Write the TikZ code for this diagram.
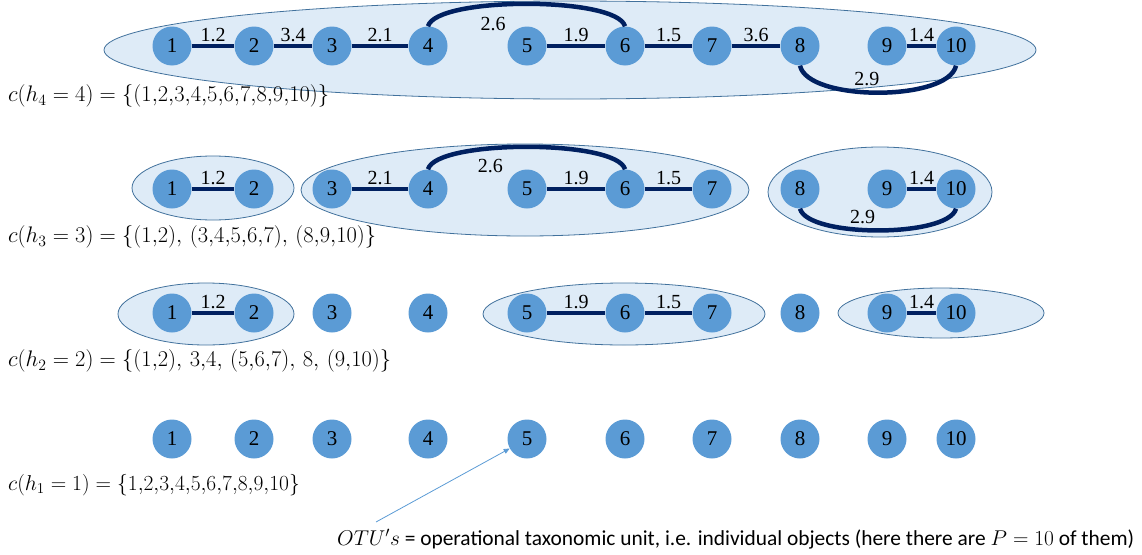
\RequirePackage{fix-cm}
\documentclass[tikz,border=0pt]{standalone}
\usepackage{fontspec}
\setmainfont{Liberation Serif}
\newfontfamily\calib{Carlito}
\usetikzlibrary{arrows.meta}
\definecolor{nodeblue}{HTML}{5B9BD5}
\definecolor{edgeblue}{HTML}{002060}
\definecolor{clfill}{HTML}{DEEBF7}
\definecolor{clline}{HTML}{41719C}
\tikzset{
  otu/.style={circle, fill=nodeblue, minimum size=39pt, inner sep=0pt, font=\fontsize{21}{21}\selectfont},
  lnk/.style={draw=edgeblue, line width=4.5pt},
  wt/.style={font=\fontsize{20}{20}\selectfont, inner sep=0pt},
  clus/.style={draw=clline, fill=clfill, line width=0.8pt},
  form/.style={anchor=west, font=\fontsize{22.5}{25}\selectfont, inner sep=0pt},
  arr/.style={draw=nodeblue, line width=0.8pt, -{Triangle[length=6pt,width=5pt]}},
}
\begin{document}
\begin{tikzpicture}[x=1pt,y=-1pt]
\useasboundingbox (0,0) rectangle (1142,554);
% clusters
\draw[clus] (570,50) ellipse [x radius=466, y radius=49];
\draw[clus] (213,188) ellipse [x radius=81, y radius=32];
\draw[clus] (525,190) ellipse [x radius=224, y radius=46];
\draw[clus] (880,192) ellipse [x radius=112, y radius=45];
\draw[clus] (206,314) ellipse [x radius=88, y radius=31];
\draw[clus] (624,314) ellipse [x radius=141, y radius=31];
\draw[clus] (941,313) ellipse [x radius=103, y radius=25];
% OTU nodes
\foreach \r/\y in {a/46,b/189,c/313,d/439}{
  \foreach \i/\x in {1/172,2/254,3/332,4/428,5/527,6/625,7/712,8/800,9/887,10/956}{
    \node[otu] (\r\i) at (\x,\y) {\i};
  }
}
% row h4
\draw[lnk] (a1) -- node[wt,above=2pt]{1.2} (a2);
\draw[lnk] (a2) -- node[wt,above=2pt]{3.4} (a3);
\draw[lnk] (a3) -- node[wt,above=2pt]{2.1} (a4);
\draw[lnk] (a5) -- node[wt,above=2pt]{1.9} (a6);
\draw[lnk] (a6) -- node[wt,above=2pt]{1.5} (a7);
\draw[lnk] (a7) -- node[wt,above=2pt]{3.6} (a8);
\draw[lnk] (a9) -- node[wt,above=2pt]{1.4} (a10);
\draw[lnk] (a4.north) .. controls +(8,-30) and +(-8,-30) .. (a6.north) node[wt,pos=0.38,below=10pt]{2.6};
\draw[lnk] (a8.south) .. controls +(8,36) and +(-8,36) .. (a10.south) node[wt,pos=0.45,above=4pt]{2.9};
% row h3
\draw[lnk] (b1) -- node[wt,above=2pt]{1.2} (b2);
\draw[lnk] (b3) -- node[wt,above=2pt]{2.1} (b4);
\draw[lnk] (b5) -- node[wt,above=2pt]{1.9} (b6);
\draw[lnk] (b6) -- node[wt,above=2pt]{1.5} (b7);
\draw[lnk] (b9) -- node[wt,above=2pt]{1.4} (b10);
\draw[lnk] (b4.north) .. controls +(8,-30) and +(-8,-30) .. (b6.north) node[wt,pos=0.37,below=9pt]{2.6};
\draw[lnk] (b8.south) .. controls +(8,29) and +(-8,29) .. (b10.south) node[wt,pos=0.43,above=4pt]{2.9};
% row h2
\draw[lnk] (c1) -- node[wt,above=2pt]{1.2} (c2);
\draw[lnk] (c5) -- node[wt,above=2pt]{1.9} (c6);
\draw[lnk] (c6) -- node[wt,above=2pt]{1.5} (c7);
\draw[lnk] (c9) -- node[wt,above=2pt]{1.4} (c10);
% formulas
\node[form] (f4) at (8,96) {$c(h_4=4)=\{(1{,}2{,}3{,}4{,}5{,}6{,}7{,}8{,}9{,}10)\}$};
\node[form] (f3) at (8,237) {$c(h_3=3)=\{(1{,}2),\,(3{,}4{,}5{,}6{,}7),\,(8{,}9{,}10)\}$};
\node[form] (f2) at (8,361) {$c(h_2=2)=\{(1{,}2),\,3{,}4,\,(5{,}6{,}7),\,8,\,(9{,}10)\}$};
\node[form, font=\fontsize{21.5}{25}\selectfont] (f1) at (8,485) {$c(h_1=1)=\{1{,}2{,}3{,}4{,}5{,}6{,}7{,}8{,}9{,}10\}$};
% annotation
\node[anchor=west, inner sep=0pt, font=\calib\fontsize{21.4}{24}\selectfont] (ann) at (337,539)
  {$OTU's$ = operational taxonomic unit, i.e. individual objects (here there are $P=10$ of them)};
\coordinate (as) at (376,522);
\draw[arr] (as) -- (d5);
\end{tikzpicture}
\end{document}
